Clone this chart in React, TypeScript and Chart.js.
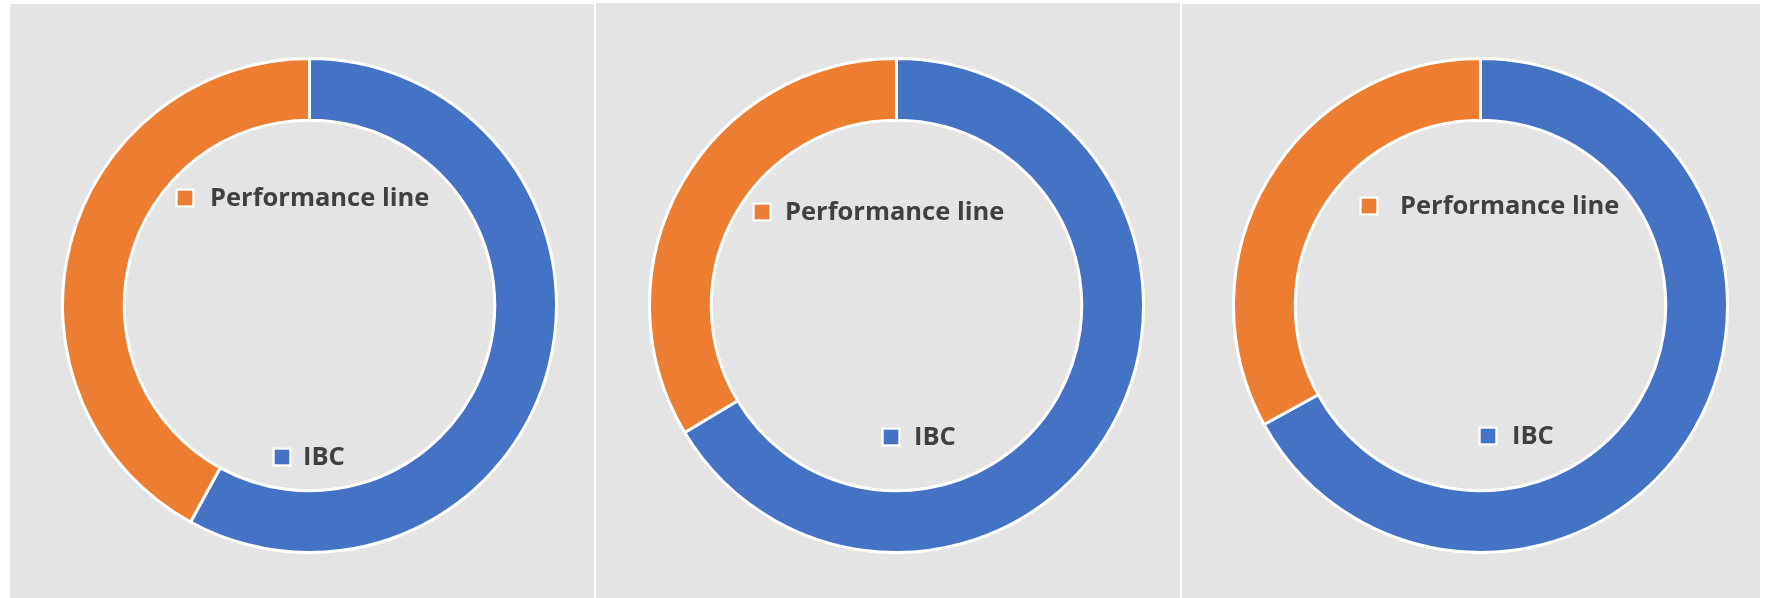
import React, { useEffect, useRef } from "react";
import { Chart, registerables } from "chart.js";

Chart.register(...registerables);

const categories = ["IBC", "Performance line"];
const chart1Values = [58, 42];
const chart2Values = [66.4, 33.6];
const chart3Values = [67, 33];
const sliceColors = ["#4472C4", "#ED7D31"];

type LegendPos = { sx: number; sy: number; tx: number };

const SIZE = 497;

const innerLegend = {
  id: "innerLegend",
  afterDraw(chart: any, _args: any, opts: any) {
    const ctx = chart.ctx;
    const items: LegendPos[] = opts.items || [];
    const labels = chart.data.labels as string[];
    const colors = chart.data.datasets[0].backgroundColor as string[];
    ctx.save();
    items.forEach((p, i) => {
      const s = 15;
      ctx.fillStyle = colors[i];
      ctx.fillRect(p.sx - s / 2, p.sy - s / 2, s, s);
      ctx.strokeStyle = "#ffffff";
      ctx.lineWidth = 2;
      ctx.strokeRect(p.sx - s / 2 - 1, p.sy - s / 2 - 1, s + 2, s + 2);
      ctx.fillStyle = "#404040";
      ctx.font = "bold 25.5px 'Open Sans'";
      ctx.textBaseline = "middle";
      ctx.textAlign = "left";
      ctx.fillText(labels[i], p.tx, p.sy + 1);
    });
    ctx.restore();
  },
};

function Donut(props: { values: number[]; left: number; top: number; legend: LegendPos[] }) {
  const ref = useRef<HTMLCanvasElement>(null);
  useEffect(() => {
    const chart = new Chart(ref.current as HTMLCanvasElement, {
      type: "doughnut",
      data: {
        labels: categories,
        datasets: [
          {
            data: props.values,
            backgroundColor: sliceColors,
            borderColor: "#ffffff",
            borderWidth: 3,
          },
        ],
      },
      options: {
        animation: false,
        responsive: false,
        cutout: "75%",
        layout: { padding: 0 },
        plugins: {
          legend: { display: false },
          tooltip: { enabled: false },
          innerLegend: { items: props.legend },
        } as any,
      },
      plugins: [innerLegend],
    });
    return () => chart.destroy();
  }, []);
  return (
    <canvas
      ref={ref}
      width={SIZE}
      height={SIZE}
      style={{ position: "absolute", left: props.left, top: props.top, width: SIZE, height: SIZE }}
    />
  );
}

export default function App() {
  const panel = (left: number, top: number, width: number) => (
    <div
      style={{
        position: "absolute",
        left,
        top,
        width,
        height: 598 - top,
        background: "#e4e4e4",
      }}
    />
  );
  return (
    <div
      style={{
        position: "fixed",
        left: 0,
        top: 0,
        width: 1768,
        height: 598,
        background: "#ffffff",
        overflow: "hidden",
      }}
    >
      {panel(10, 4, 584)}
      {panel(596, 3, 584)}
      {panel(1182, 4, 578)}
      <Donut
        values={chart1Values}
        left={61}
        top={57}
        legend={[
          { sx: 221, sy: 400, tx: 242 },
          { sx: 124, sy: 141, tx: 149 },
        ]}
      />
      <Donut
        values={chart2Values}
        left={648}
        top={57}
        legend={[
          { sx: 243, sy: 380, tx: 266 },
          { sx: 114, sy: 155, tx: 137 },
        ]}
      />
      <Donut
        values={chart3Values}
        left={1232}
        top={57}
        legend={[
          { sx: 256, sy: 379, tx: 280 },
          { sx: 137, sy: 149, tx: 168 },
        ]}
      />
    </div>
  );
}
